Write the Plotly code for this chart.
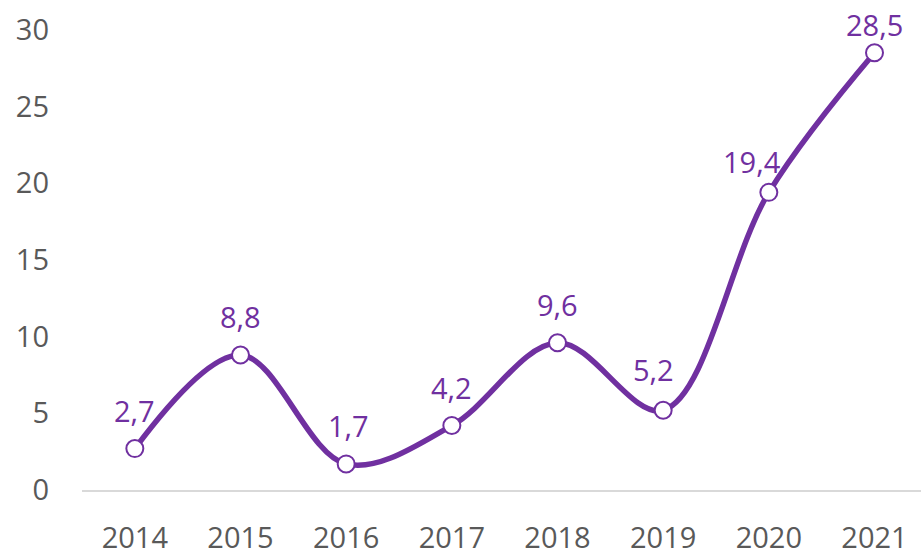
import plotly.graph_objects as go

years = ["2014", "2015", "2016", "2017", "2018", "2019", "2020", "2021"]
values = [2.7, 8.8, 1.7, 4.2, 9.6, 5.2, 19.4, 28.5]
labels = ["2,7", "8,8", "1,7", "4,2", "9,6", "5,2", "19,4", "28,5"]
y_ticks = [0, 5, 10, 15, 20, 25, 30]

# label placement offsets (pixels) - styling only
label_dx = [0, 0, 2, 0, 0, -10, -17, 0]
label_dy = [38, 38, 38, 38, 38, 41, 31, 28]

purple = "#7030A0"
x_idx = list(range(len(years)))

fig = go.Figure(go.Scatter(
    x=x_idx, y=values,
    mode="lines+markers",
    line=dict(color=purple, width=5.5, shape="spline", smoothing=1.0),
    marker=dict(size=17, color="white", line=dict(color=purple, width=2)),
    cliponaxis=False,
))

for xi, v, t, dx, dy in zip(x_idx, values, labels, label_dx, label_dy):
    fig.add_annotation(
        x=xi, y=v, text=t, showarrow=False,
        xanchor="center", yanchor="middle", xshift=dx, yshift=dy,
        font=dict(color=purple, size=29, family="Open Sans"),
    )

fig.update_layout(
    width=921, height=551,
    margin=dict(l=82, r=0, t=19, b=61, autoexpand=False),
    paper_bgcolor="white", plot_bgcolor="white",
    showlegend=False,
    font=dict(family="Open Sans", size=29, color="#595959"),
    xaxis=dict(
        range=[-0.5, 7.44], tickmode="array", tickvals=x_idx, ticktext=years,
        showgrid=False, zeroline=False, showline=True, linecolor="#D9D9D9", linewidth=2,
        ticks="", ticklabelstandoff=21, automargin=False,
    ),
    yaxis=dict(
        range=[0, 30.7], tickmode="array", tickvals=y_ticks, ticktext=[str(v) for v in y_ticks],
        showgrid=False, zeroline=False, showline=False, ticks="", ticklabelstandoff=32,
        automargin=False,
    ),
)

fig.write_html("out.html", config={"displayModeBar": False},
               post_script="document.body.style.margin='0';document.body.style.overflow='hidden';")
